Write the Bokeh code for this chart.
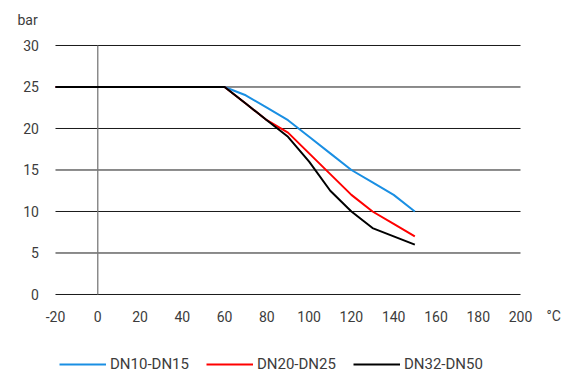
from bokeh.plotting import figure
from bokeh.models import Range1d, Legend, LegendItem, ColumnDataSource
from bokeh.core.properties import value
from bokeh.embed import file_html
from bokeh.resources import INLINE

temps_a = [-20, 60, 70, 80, 90, 100, 110, 120, 130, 140, 150]
dn10_dn15 = [25, 25, 24, 22.5, 21, 19, 17, 15, 13.5, 12, 10]
temps_b = [-20, 60, 70, 80, 90, 100, 110, 120, 130, 140, 150]
dn20_dn25 = [25, 25, 23, 21, 19.5, 17, 14.5, 12, 10, 8.5, 7]
temps_c = [-20, 60, 70, 80, 90, 100, 110, 120, 130, 140, 150]
dn32_dn50 = [25, 25, 23, 21, 19, 16, 12.5, 10, 8, 7, 6]
x_ticks = [-20, 0, 20, 40, 60, 80, 100, 120, 140, 160, 180, 200]
y_ticks = [0, 5, 10, 15, 20, 25, 30]
y_unit = "bar"
x_unit = "°C"

FONT = "Roboto"
TXT = "#3c3c3c"

W, H = 566, 374
p = figure(width=W, height=H, output_backend="svg", toolbar_location=None,
           x_range=Range1d(-46.02, 221.76), y_range=Range1d(-9.64, 35.42),
           min_border=0)
p.outline_line_color = None
p.axis.visible = False
p.grid.visible = False
p.background_fill_color = "white"
p.border_fill_color = "white"

xmin, xmax = x_ticks[0], x_ticks[-1]
ymin, ymax = y_ticks[0], y_ticks[-1]

# horizontal grid lines
p.segment(x0=[xmin] * len(y_ticks), x1=[xmax] * len(y_ticks), y0=y_ticks, y1=y_ticks,
          line_color="#000000", line_width=1, line_alpha=0.9)
# vertical line at 0
p.segment(x0=[0], x1=[0], y0=[ymin], y1=[ymax], line_color="#7a7a7a", line_width=1.3)

r1 = p.line(temps_a, dn10_dn15, line_color="#1a8fe3", line_width=2)
r2 = p.line(temps_b, dn20_dn25, line_color="#ff0000", line_width=2)
r3 = p.line(temps_c, dn32_dn50, line_color="#000000", line_width=2)

# tick labels
ysrc = ColumnDataSource(dict(x=[-27.81] * len(y_ticks), y=y_ticks, t=[str(v) for v in y_ticks]))
p.text(x="x", y="y", text="t", source=ysrc, text_font=value(FONT), text_font_size="14px",
       text_color=TXT, text_align="right", text_baseline="middle")
xsrc = ColumnDataSource(dict(x=x_ticks, y=[-2.65] * len(x_ticks), t=[str(v) for v in x_ticks]))
p.text(x="x", y="y", text="t", source=xsrc, text_font=value(FONT), text_font_size="14px",
       text_color=TXT, text_align="center", text_baseline="middle")

p.text(x=[-37.98], y=[33.13], text=[y_unit], text_font=value(FONT), text_font_size="14px",
       text_color=TXT, text_align="left", text_baseline="middle")
p.text(x=[212.3], y=[-2.65], text=[x_unit], text_font=value(FONT), text_font_size="14px",
       text_color=TXT, text_align="left", text_baseline="middle")

legend = Legend(items=[LegendItem(label="DN10-DN15", renderers=[r1]),
                       LegendItem(label="DN20-DN25", renderers=[r2]),
                       LegendItem(label="DN32-DN50", renderers=[r3])],
                orientation="horizontal", location=(59, 0),
                label_text_font=FONT, label_text_font_size="15px", label_text_color=TXT,
                glyph_width=47, glyph_height=20, label_height=20, spacing=17,
                border_line_color=None, background_fill_alpha=0,
                margin=0, padding=0, label_standoff=4)
p.add_layout(legend)

open("out.html", "w").write(file_html(p, INLINE))
